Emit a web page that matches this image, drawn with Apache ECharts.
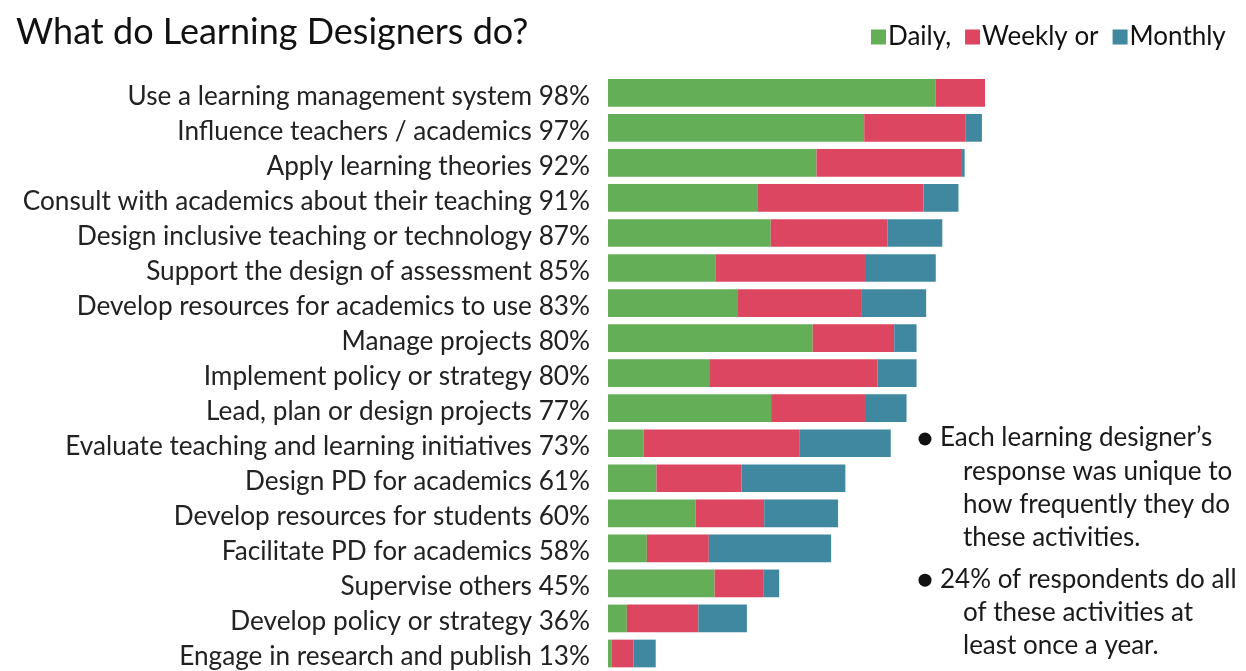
<!DOCTYPE html>
<html>
<head>
<meta charset="utf-8">
<script src="https://cdn.jsdelivr.net/npm/echarts@6/dist/echarts.min.js"></script>
<style>
html,body{margin:0;padding:0;background:#fff;}
#chart{width:1246px;height:671px;}
</style>
</head>
<body>
<div id="chart"></div>
<script>
const categories = [
  "Use a learning management system",
  "Influence teachers / academics",
  "Apply learning theories",
  "Consult with academics about their teaching",
  "Design inclusive teaching or technology",
  "Support the design of assessment",
  "Develop resources for academics to use",
  "Manage projects",
  "Implement policy or strategy",
  "Lead, plan or design projects",
  "Evaluate teaching and learning initiatives",
  "Design PD for academics",
  "Develop resources for students",
  "Facilitate PD for academics",
  "Supervise others",
  "Develop policy or strategy",
  "Engage in research and publish"
];
const totals = [98, 97, 92, 91, 87, 85, 83, 80, 80, 77, 73, 61, 60, 58, 45, 36, 13];
const daily   = [85.2, 66.6, 54.2, 38.8, 42.3, 27.9, 33.8, 53.2, 26.3, 42.4, 9.3, 12.6, 22.8, 10.1, 27.7, 4.9, 1.0];
const weekly  = [12.8, 26.4, 37.8, 43.2, 30.4, 38.9, 32.2, 21.2, 43.8, 24.4, 40.4, 22.1, 17.8, 16.1, 12.8, 18.6, 5.6];
const monthly = [0, 4.2, 0.7, 9.1, 14.2, 18.4, 16.7, 5.8, 10.1, 10.8, 23.8, 27.0, 19.2, 31.8, 4.0, 12.6, 5.8];
const seriesNames = ["Daily,", "Weekly or", "Monthly"];
const notes = [
  ["Each learning designer\u2019s", "response was unique to", "how frequently they do", "these activities."],
  ["24% of respondents do all", "of these activities at", "least once a year."]
];

const FONT = "Lato";
const colors = ["#64ae58", "#dc4661", "#3f88a0"];
const chart = echarts.init(document.getElementById('chart'));

const graphics = [];
let y = 438;
notes.forEach((block, bi) => {
  graphics.push({type:'circle', shape:{cx:925, cy:y+1, r:6.5}, style:{fill:'#111'}});
  block.forEach((line, li) => {
    graphics.push({
      type:'text',
      x: li === 0 ? 940 : 963,
      y: y,
      style:{text: line, font: '26px ' + FONT, fill:'#1a1a1a', align:'left', verticalAlign:'middle'}
    });
    y += 33.3;
  });
  y += 8;
});

chart.setOption({
  animation:false,
  backgroundColor:'#fff',
  title:{
    text:'What do Learning Designers do?',
    left:11, top:9,
    textStyle:{fontFamily:FONT, fontSize:36, fontWeight:'normal', color:'#111'}
  },
  legend:{
    data: seriesNames,
    left:866, top:19,
    icon:'rect', itemWidth:15, itemHeight:15, itemGap:14,
    textStyle:{fontFamily:FONT, fontSize:26, color:'#111', padding:[0,0,0,-3]}
  },
  grid:{left:608, top:75.3, width:384.7, height:600, containLabel:false},
  xAxis:{type:'value', min:0, max:100, show:false},
  yAxis:{
    type:'category', data:categories, inverse:true,
    axisLine:{show:false}, axisTick:{show:false},
    axisLabel:{
      margin:18, fontFamily:FONT, fontSize:26.2, color:'#222',
      formatter:(v, i) => '{n|' + v + ' ' + totals[i] + '%}',
      rich:{ n:{fontFamily:FONT, fontSize:26.2, color:'#222', lineHeight:28, padding:[7,0,0,0]} }
    }
  },
  series: [daily, weekly, monthly].map((d, k) => ({
    name: seriesNames[k], type:'bar', stack:'all', data:d,
    barCategoryGap:'21%', itemStyle:{color:colors[k]}
  })),
  graphic: graphics
});
</script>
</body>
</html>
